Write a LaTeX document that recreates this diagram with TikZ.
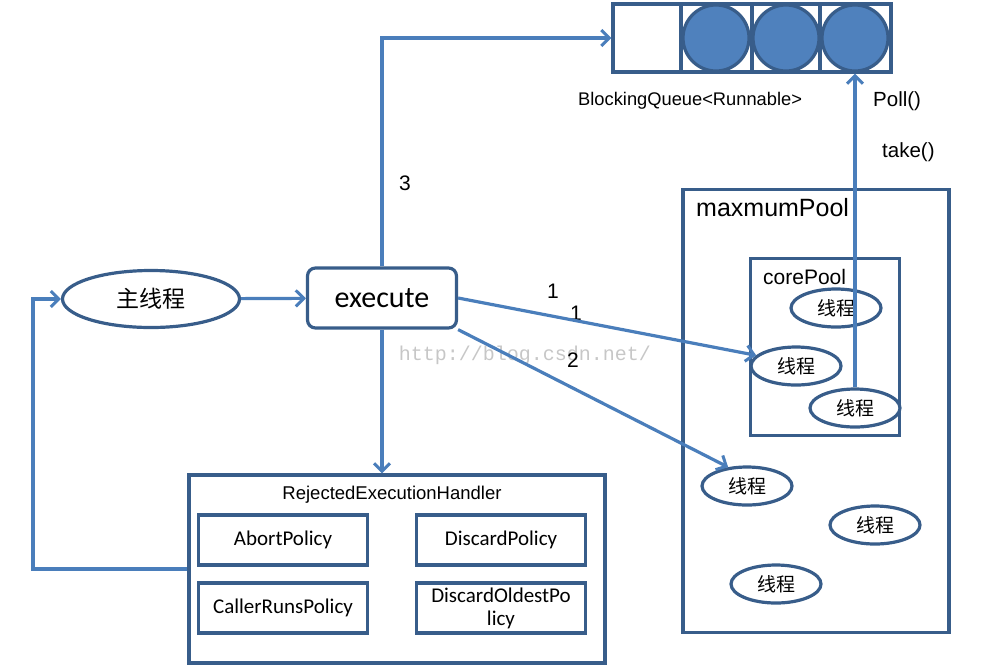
\documentclass[tikz,border=0pt]{standalone}
\usepackage{fontspec}
\setmainfont{Liberation Sans}
\newfontfamily\cjk{Noto Sans CJK SC}
\newfontfamily\calfont{Carlito}
\newfontfamily\wmfont{Liberation Mono}
\usetikzlibrary{shapes.geometric,arrows.meta}
\definecolor{boxc}{RGB}{56,93,138}
\definecolor{arrc}{RGB}{74,126,187}
\definecolor{ballc}{RGB}{79,129,189}

\begin{document}
\begin{tikzpicture}[x=1pt,y=-1pt,
  every node/.style={inner sep=0pt},
  thread/.style={ellipse,draw=boxc,fill=white,line width=3.2pt,minimum width=90pt,minimum height=38pt,font=\cjk\fontsize{19}{19}\selectfont},
  policy/.style={draw=boxc,line width=3.2pt,minimum width=169pt,minimum height=50pt,align=center,font=\calfont\fontsize{21}{23}\selectfont},
  pool/.style={draw=boxc,line width=3.2pt},
  ball/.style={circle,draw=boxc,fill=ballc,line width=3.2pt,minimum size=66pt},
  num/.style={font=\fontsize{21}{21}\selectfont},
  arr/.style={draw=arrc,line width=3.2pt,-{Straight Barb[length=8pt,width=16pt,line width=3pt]}}]
\useasboundingbox (0,0) rectangle (1008,665);

\node[font=\wmfont\fontsize{20}{20}\selectfont,text=black!22] (mark) at (525,355) {http://blog.csdn.net/};

% queue
\node[pool,minimum width=278pt,minimum height=68pt] (queue) at (752,38) {};
\foreach \x in {681,752,820}
    \draw[boxc,line width=3.2pt] (\x,4) -- (\x,72);
\foreach \x/\n in {716/1,786/2,855/3}
    \node[ball] (ball\n) at (\x,38) {};
\node[anchor=west,font=\fontsize{18.3}{18}\selectfont] (qname) at (578,101) {BlockingQueue<Runnable>};
\node[anchor=west,font=\fontsize{20.5}{20}\selectfont] (poll) at (873,101) {Poll()};
\node[anchor=west,font=\fontsize{20.5}{20}\selectfont] (take) at (882,152) {take()};

% pools
\node[pool,minimum width=266pt,minimum height=443pt] (maxpool) at (816,411) {};
\node[anchor=west,font=\fontsize{25}{25}\selectfont] (maxname) at (696,208) {maxmumPool};
\node[pool,minimum width=149pt,minimum height=177pt] (corepool) at (825,347) {};
\node[anchor=west,font=\fontsize{21}{21}\selectfont] (corename) at (763,277) {corePool};

\node[thread] (t1) at (836,308) {线程};
\node[thread] (t2) at (796,366) {线程};
\node[thread] (t3) at (855,408) {线程};
\node[thread] (t4) at (747,486) {线程};
\node[thread] (t5) at (875,525) {线程};
\node[thread] (t6) at (776,584) {线程};

\node[thread,minimum width=177pt,minimum height=57pt,font=\cjk\fontsize{23}{23}\selectfont] (main) at (151,299) {主线程};
\node[draw=boxc,line width=3.2pt,rounded corners=8pt,minimum width=149pt,minimum height=60pt,font=\calfont\fontsize{30}{30}\selectfont] (exec) at (382,298) {execute};

% handler
\node[pool,minimum width=416pt,minimum height=188pt] (rej) at (397,569) {};
\node[font=\fontsize{18.5}{18}\selectfont] (rejname) at (392,495) {RejectedExecutionHandler};
\node[policy] (abort) at (283,540) {AbortPolicy};
\node[policy] (discard) at (501,540) {DiscardPolicy};
\node[policy] (caller) at (283,608) {CallerRunsPolicy};
\node[policy] (oldest) at (501,608) {DiscardOldestPo\\licy};

\node[num] (n3) at (405,183) {3};
\node[num] (n1a) at (553,291) {1};
\node[num] (n1b) at (576,313) {1};
\node[num] (n2) at (573,360) {2};

\coordinate (loop) at (33,299);
\draw[arr] (main) -- (exec);
\draw[arr] (exec.north) |- (queue.west);
\draw[arr] (exec.south) -- (exec.south |- rej.north);
\draw[arr] (rej.west) -| (loop) -- (main.west);
\draw[arr] (exec.east) -- (t2.165);
\draw[arr] (exec.south east) -- (t4.135);
\draw[arr] (t3.north) -- (t3.north |- queue.south);

\end{tikzpicture}
\end{document}
